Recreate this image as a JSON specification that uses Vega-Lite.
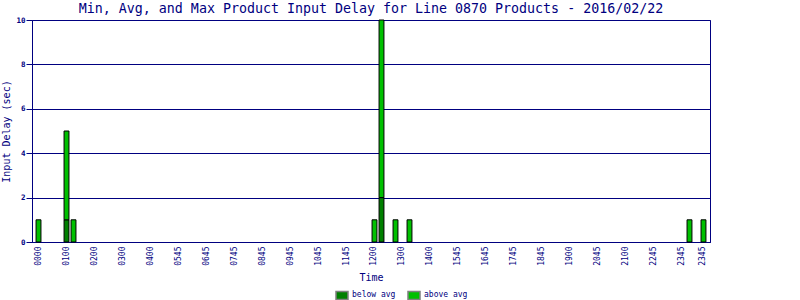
{
  "$schema": "https://vega.github.io/schema/vega-lite/v6.json",
  "autosize": "none",
  "width": 678,
  "height": 222,
  "padding": {"left": 32, "top": 20, "right": 90, "bottom": 58},
  "background": "white",
  "title": {
    "text": "Min, Avg, and Max Product Input Delay for Line 0870 Products - 2016/02/22",
    "font": "DejaVu Sans Mono",
    "fontSize": 13.3,
    "fontWeight": "normal",
    "color": "#000080",
    "anchor": "middle",
    "frame": "group",
    "baseline": "bottom",
    "offset": 3,
    "dy": 16
  },
  "config": {
    "view": {"stroke": "#000080", "strokeWidth": 1},
    "font": "DejaVu Sans Mono"
  },
  "data": {
    "values": [
      {"slot": 0, "type": "above avg", "delay": 1},
      {"slot": 4, "type": "below avg", "delay": 1},
      {"slot": 4, "type": "above avg", "delay": 4},
      {"slot": 5, "type": "above avg", "delay": 1},
      {"slot": 48, "type": "above avg", "delay": 1},
      {"slot": 49, "type": "below avg", "delay": 2},
      {"slot": 49, "type": "above avg", "delay": 8},
      {"slot": 51, "type": "above avg", "delay": 1},
      {"slot": 53, "type": "above avg", "delay": 1},
      {"slot": 93, "type": "above avg", "delay": 1},
      {"slot": 95, "type": "above avg", "delay": 1}
    ]
  },
  "mark": {"type": "bar", "stroke": "#000000", "strokeWidth": 1},
  "encoding": {
    "x": {
      "field": "slot",
      "type": "ordinal",
      "scale": {
        "domain": [0,1,2,3,4,5,6,7,8,9,10,11,12,13,14,15,16,17,18,19,20,21,22,23,24,25,26,27,28,29,30,31,32,33,34,35,36,37,38,39,40,41,42,43,44,45,46,47,48,49,50,51,52,53,54,55,56,57,58,59,60,61,62,63,64,65,66,67,68,69,70,71,72,73,74,75,76,77,78,79,80,81,82,83,84,85,86,87,88,89,90,91,92,93,94,95],
        "paddingInner": 0.3,
        "paddingOuter": 0.58
      },
      "axis": {
        "title": "Time",
        "titleFont": "DejaVu Sans Mono",
        "titleFontSize": 10,
        "titleFontWeight": "normal",
        "titleColor": "#000080",
        "titlePadding": 7,
        "values": [0,4,8,12,16,20,24,28,32,36,40,44,48,52,56,60,64,68,72,76,80,84,88,92,95],
        "labelExpr": "datum.value == 95 ? '2345' : ['0000','0100','0200','0300','0400','0545','0645','0745','0845','0945','1045','1145','1200','1300','1400','1545','1645','1745','1845','1900','2045','2100','2245','2345'][datum.value / 4]",
        "labelAngle": 270,
        "labelFont": "DejaVu Sans Mono",
        "labelFontSize": 8,
        "labelColor": "#000080",
        "labelPadding": 4,
        "ticks": false,
        "domain": true,
        "domainColor": "#000080",
        "labelOverlap": false
      }
    },
    "y": {
      "field": "delay",
      "type": "quantitative",
      "aggregate": "sum",
      "stack": "zero",
      "scale": {"domain": [0, 10], "nice": false},
      "axis": {
        "title": "Input Delay (sec)",
        "titleFont": "DejaVu Sans Mono",
        "titleFontSize": 10,
        "titleFontWeight": "normal",
        "titleColor": "#000080",
        "titlePadding": 4,
        "values": [0, 2, 4, 6, 8, 10],
        "labelFont": "DejaVu Sans Mono",
        "labelFontSize": 7.5,
        "labelFontWeight": "bold",
        "labelColor": "#000080",
        "labelPadding": 1,
        "tickSize": 6,
        "tickColor": "#000080",
        "domainColor": "#000080",
        "grid": true,
        "gridColor": "#000080",
        "gridOpacity": 1,
        "gridWidth": 1
      }
    },
    "color": {
      "field": "type",
      "type": "nominal",
      "scale": {"domain": ["below avg", "above avg"], "range": ["#008000", "#00c000"]},
      "legend": {
        "title": null,
        "orient": "none",
        "direction": "horizontal",
        "legendX": 303,
        "legendY": 268,
        "padding": 0,
        "symbolType": "M-1,-0.67H1V0.67H-1Z",
        "symbolSize": 144,
        "symbolStrokeColor": "#808080",
        "symbolStrokeWidth": 1.5,
        "symbolOpacity": 1,
        "labelFont": "DejaVu Sans Mono",
        "labelFontSize": 8,
        "labelColor": "#000080",
        "labelOffset": 3,
        "columnPadding": 9
      }
    },
    "order": {"field": "type", "sort": "descending"}
  }
}
